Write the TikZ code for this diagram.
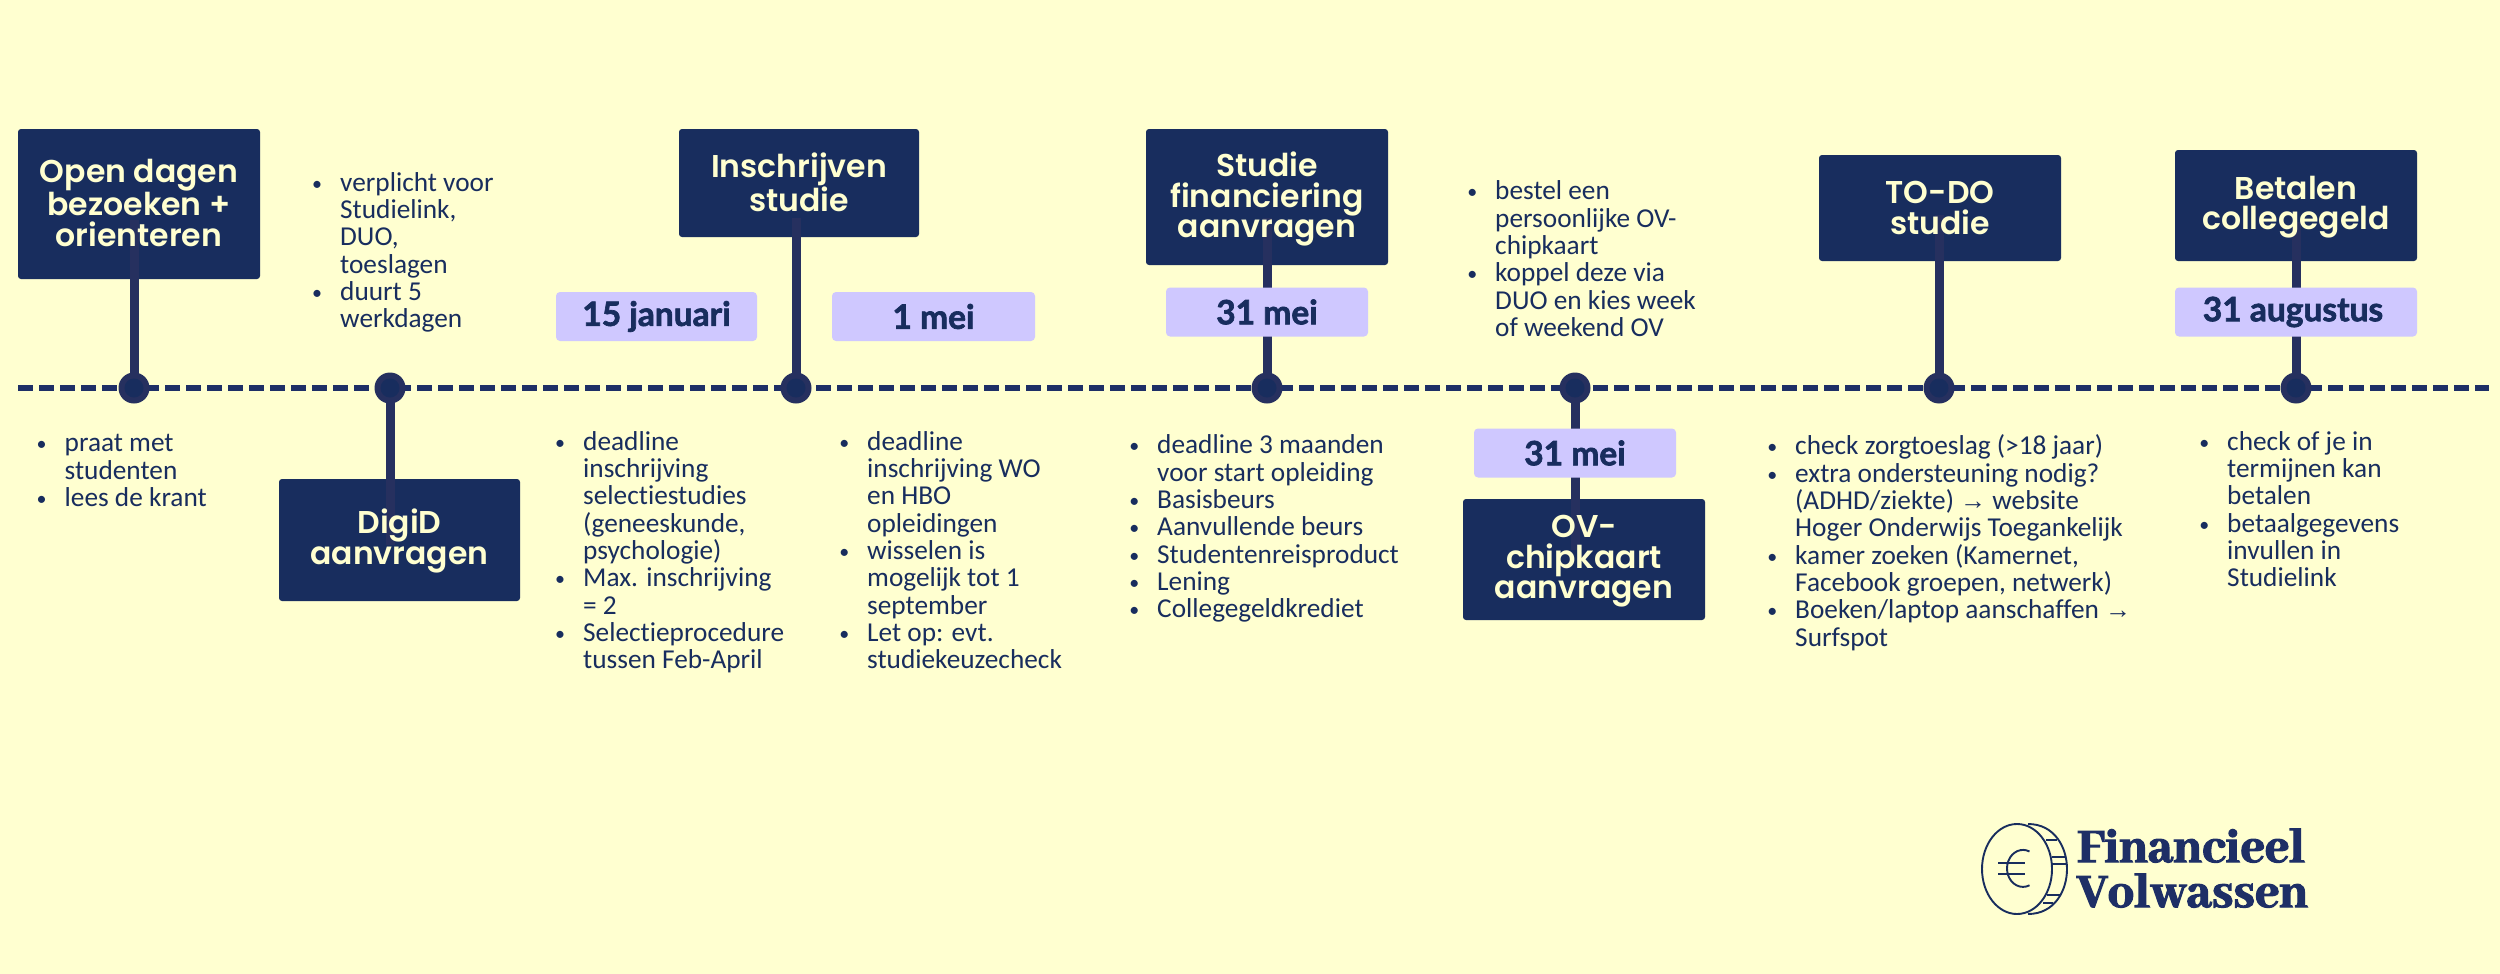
\documentclass[tikz,border=0pt]{standalone}
\usepackage{fontspec}
\setmainfont{Carlito}[Ligatures=NoCommon]
\newfontfamily\headfont{Poppins}[BoldFont=Poppins SemiBold]
\newfontfamily\datefont{Lato}[BoldFeatures={FakeBold=2}]
\newfontfamily\logofont{Abhaya Libre}[BoldFont=Abhaya Libre ExtraBold,BoldFeatures={FakeBold=2.5}]
\newfontfamily\arrowfont{Liberation Sans}
\definecolor{bgc}{HTML}{FFFFD0}
\definecolor{navy}{HTML}{182D5E}
\definecolor{stemc}{HTML}{26305F}
\definecolor{dashc}{HTML}{1E2F66}
\definecolor{lilac}{HTML}{CFC8FF}
\definecolor{cream}{HTML}{FFFFD0}
\newcommand{\bl}{\makebox[0pt][r]{\raisebox{1pt}{\fontsize{20}{20}\selectfont•}\hspace{18pt}}}
\newcommand{\arr}{{\arrowfont\fontsize{26}{20}\selectfont →}}
\tikzset{
  x=1pt,y=-1pt,
  boxn/.style={draw=none,fill=navy,rounded corners=3pt,inner sep=0pt,minimum width=#1},
  datebox/.style={fill=lilac,rounded corners=4pt,inner sep=0pt,text=navy,font=\datefont\fontsize{33.5}{33}\selectfont\bfseries},
  headtxt/.style={text=cream,align=center,inner sep=0pt,font=\headfont\fontsize{31.5}{30.6}\selectfont\bfseries},
  listtxt/.style={anchor=north west,inner sep=0pt,align=left,text=navy,font=\fontsize{27.3}{27.35}\selectfont},
  stem/.style={stemc,line width=9pt},
  dotn/.style={circle,fill=stemc,minimum size=31pt,inner sep=0pt},
  dotc/.style={circle,fill=navy,minimum size=19pt,inner sep=0pt},
  tl/.style={dashc,line width=6pt,dash pattern=on 15pt off 6pt},
  coin/.style={navy,line width=1.9pt}
}
\begin{document}
\begin{tikzpicture}
\fill[bgc] (0,0) rectangle (2500,974);
\useasboundingbox (0,0) rectangle (2500,974);
% timeline
\coordinate (tlA) at (18,388);
\coordinate (tlB) at (2489,388);
\draw[tl] (tlA) -- (tlB);
% boxes
\node[boxn=242pt,minimum height=150pt] (b1) at (139,204) {};
\node[boxn=241pt,minimum height=122pt] (b2) at (399.5,540) {};
\node[boxn=240pt,minimum height=108pt] (b3) at (799,183) {};
\node[boxn=242pt,minimum height=136pt] (b4) at (1267,197) {};
\node[boxn=242pt,minimum height=121pt] (b5) at (1584,559.5) {};
\node[boxn=242pt,minimum height=106pt] (b6) at (1940,208) {};
\node[boxn=242pt,minimum height=111pt] (b7) at (2296,205.5) {};
% dots
\node[dotn] (d1) at (134,388) {};
\node[dotn] (d2) at (390,388) {};
\node[dotn] (d3) at (796,388) {};
\node[dotn] (d4) at (1267,388) {};
\node[dotn] (d5) at (1575,388) {};
\node[dotn] (d6) at (1939,388) {};
\node[dotn] (d7) at (2296,388) {};
% stem ends inside boxes
\coordinate (s1) at (134,220);
\coordinate (s2) at (390,545);
\coordinate (s3) at (796,218);
\coordinate (s4) at (1267,218);
\coordinate (s5) at (1575,550);
\coordinate (s6) at (1939,215);
\coordinate (s7) at (2296,222);
\foreach \d/\s in {d1/s1,d2/s2,d3/s3,d4/s4,d5/s5,d6/s6,d7/s7}{\draw[stem] (\d.center) -- (\s);}
\foreach \d in {d1,d2,d3,d4,d5,d6,d7}{\node[dotc] at (\d.center) {};}
% headings
\node[headtxt] (h1) at (139,203) {Open dagen\\bezoeken +\\orienteren};
\node[headtxt] (h2) at (399.5,541) {DigiD\\aanvragen};
\node[headtxt] (h3) at (799,182) {Inschrijven\\studie};
\node[headtxt] (h4) at (1267,199) {Studie\\financiering\\aanvragen};
\node[headtxt] (h5) at (1584,561.5) {OV-\\chipkaart\\aanvragen};
\node[headtxt] (h6) at (1940,208) {TO-DO\\studie};
\node[headtxt] (h7) at (2296,207) {Betalen\\collegegeld};
% dates
\node[datebox,minimum width=201pt,minimum height=49pt] (t1) at (656.5,316.5) {15 januari};
\node[datebox,minimum width=203pt,minimum height=49pt] (t2) at (933.5,316.5) {1 mei};
\node[datebox,minimum width=202pt,minimum height=49pt] (t3) at (1267,312) {31 mei};
\node[datebox,minimum width=202pt,minimum height=49pt] (t4) at (1575,453) {31 mei};
\node[datebox,minimum width=242pt,minimum height=49pt] (t5) at (2296,312) {\hspace*{-6pt}31 augustus};
% lists
\node[listtxt] (l1) at (64.5,434.5) {\bl praat met\\studenten\\\bl lees de krant};
\node[listtxt] (l2) at (340,172) {\bl verplicht voor\\Studielink,\\DUO,\\toeslagen\\\bl duurt 5\\werkdagen};
\node[listtxt] (l3) at (583,431) {\bl deadline\\inschrijving\\selectiestudies\\(geneeskunde,\\psychologie)\\\bl Max. inschrijving\\= 2\\\bl Selectieprocedure\\tussen Feb-April};
\node[listtxt] (l4) at (867,431) {\bl deadline\\inschrijving WO\\en HBO\\opleidingen\\\bl wisselen is\\mogelijk tot 1\\september\\\bl Let op: evt.\\studiekeuzecheck};
\node[listtxt] (l5) at (1157,434.5) {\bl deadline 3 maanden\\voor start opleiding\\\bl Basisbeurs\\\bl Aanvullende beurs\\\bl Studentenreisproduct\\\bl Lening\\\bl Collegegeldkrediet};
\node[listtxt] (l6) at (1495,180.5) {\bl bestel een\\persoonlijke OV-\\chipkaart\\\bl koppel deze via\\DUO en kies week\\of weekend OV};
\node[listtxt] (l7) at (1795,434.5) {\bl check zorgtoeslag (>18 jaar)\\\bl extra ondersteuning nodig?\\(ADHD/ziekte) \arr{} website\\Hoger Onderwijs Toegankelijk\\\bl kamer zoeken (Kamernet,\\Facebook groepen, netwerk)\\\bl Boeken/laptop aanschaffen \arr\\Surfspot};
\node[listtxt] (l8) at (2227,431) {\bl check of je in\\termijnen kan\\betalen\\\bl betaalgegevens\\invullen in\\Studielink};
% logo coin
\draw[coin] (2028,824) .. controls (2055,824) and (2067,848) .. (2067,869) .. controls (2067,890) and (2055,914) .. (2028,914);
\draw[coin] (2017,869) ellipse [x radius=35,y radius=45];
\foreach \yy/\xa/\xb in {840/2046/2057,857/2052/2065,864/2052/2066,895/2047/2060,903/2043/2053}{\draw[coin] (\xa,\yy) -- (\xb,\yy);}
\draw[coin] (2029.5,851.5) arc [start angle=-66,end angle=-294,x radius=16,y radius=18.5];
\draw[coin] (1998,863) -- (2025,863);
\draw[coin] (1998,874) -- (2025,874);
\node[anchor=base west,inner sep=0pt,text=dashc,font=\logofont\fontsize{52.5}{53}\selectfont\bfseries] (lg1) at (2077,862) {Financieel};
\node[anchor=base west,inner sep=0pt,text=dashc,font=\logofont\fontsize{52.5}{53}\selectfont\bfseries] (lg2) at (2077,907) {Volwassen};
\end{tikzpicture}
\end{document}
